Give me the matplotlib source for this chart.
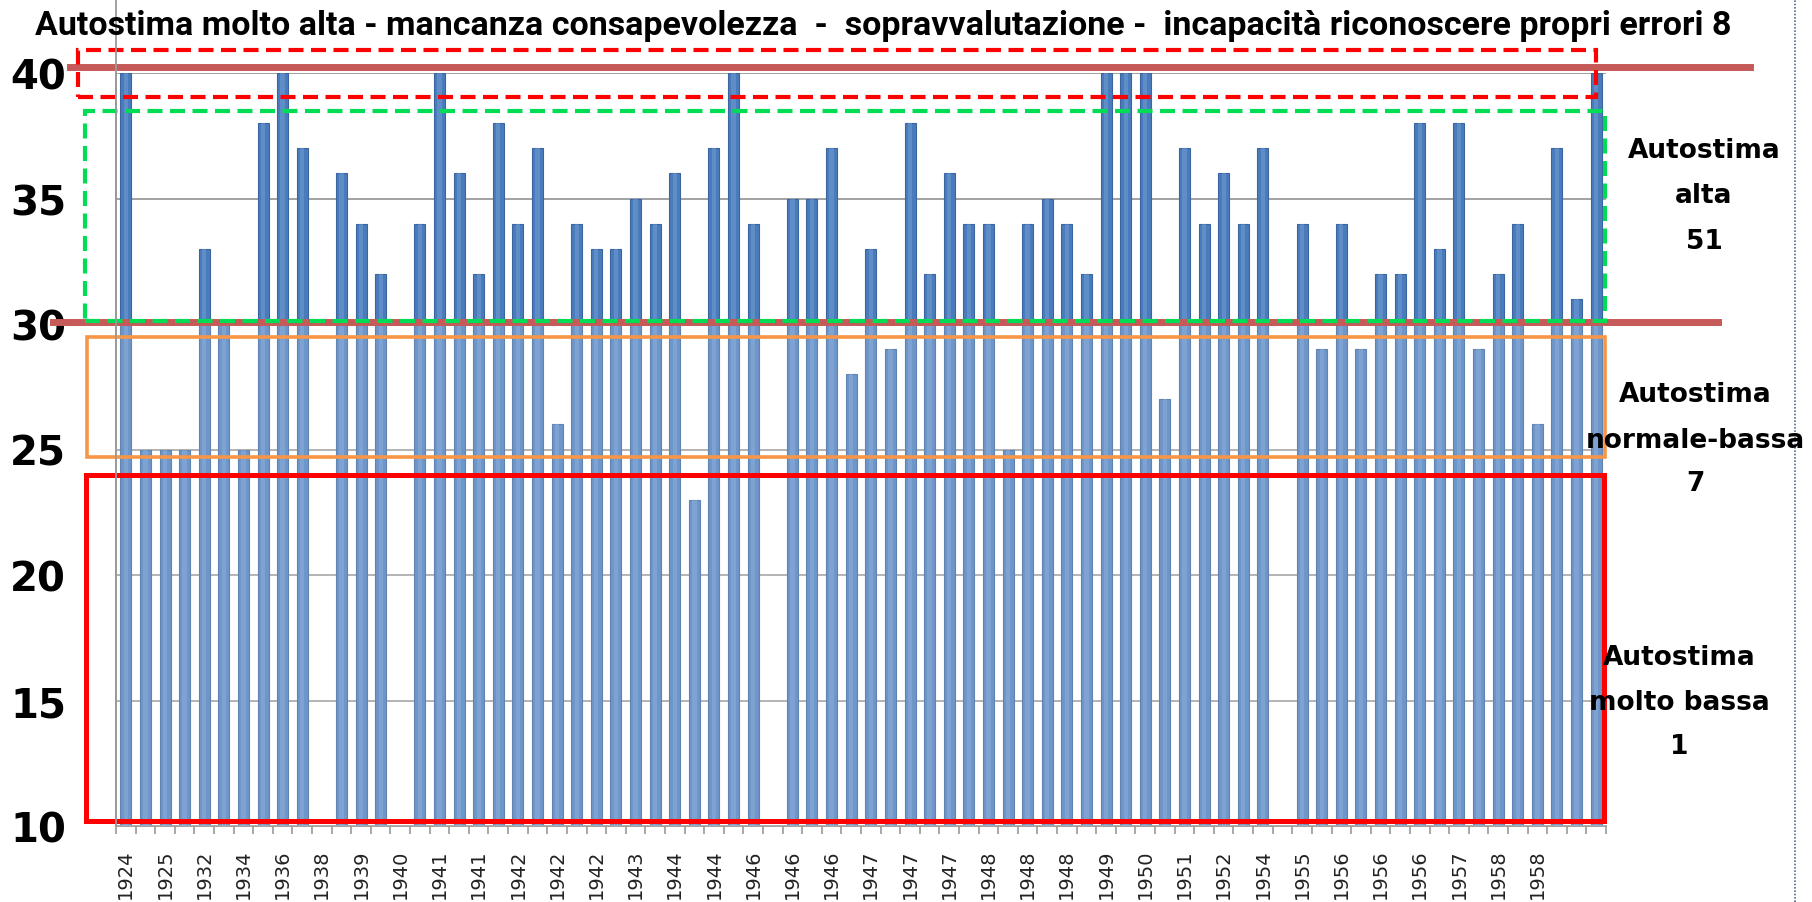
import numpy as np
import matplotlib
matplotlib.use('Agg')
import matplotlib.pyplot as plt
from matplotlib.transforms import blended_transform_factory
from matplotlib.patches import Rectangle
from matplotlib.lines import Line2D

# punteggi autostima, uno per persona
values = [40, 25, 25, 25, 33, 30, 25, 38, 40, 37,
          0, 36, 34, 32, 0, 34, 40, 36, 32, 38,
          34, 37, 26, 34, 33, 33, 35, 34, 36, 23,
          37, 40, 34, 0, 35, 35, 37, 28, 33, 29,
          38, 32, 36, 34, 34, 25, 34, 35, 34, 32,
          40, 40, 40, 27, 37, 34, 36, 34, 37, 0,
          34, 29, 34, 29, 32, 32, 38, 33, 38, 29,
          32, 34, 26, 37, 31, 40]
# anni di nascita (etichetta ogni due barre)
years = ['1924', '1925', '1932', '1934', '1936', '1938', '1939', '1940', '1941',
         '1941', '1942', '1942', '1942', '1943', '1944', '1944', '1946', '1946',
         '1946', '1947', '1947', '1947', '1948', '1948', '1948', '1949', '1950',
         '1951', '1952', '1954', '1955', '1956', '1956', '1956', '1957', '1958', '1958']
yticks = [10, 15, 20, 25, 30, 35, 40]

title = ('Autostima molto alta - mancanza consapevolezza  -  sopravvalutazione -  '
         'incapacità riconoscere propri errori 8')
blocks = [(['Autostima', 'alta', '51'], 1704, [151, 196, 242]),
          (['Autostima', 'normale-bassa', '7'], 1695, [395, 441, 484]),
          (['Autostima', 'molto bassa', '1'], 1679, [658, 703, 747])]

W, H = 1812, 903
fig = plt.figure(figsize=(W / 100, H / 100), dpi=100)
ax = fig.add_axes([116 / W, 1 - 827 / H, 1490 / W, 753 / H])

x = np.arange(len(values))
ax.bar(x, values, width=0.56, color='#4A7CBB', edgecolor='#3A65A0', linewidth=0.8, zorder=2)
ax.bar(x, values, width=0.22, color='#7AA3D8', alpha=0.45, linewidth=0, zorder=2)
ax.axhspan(10, 30, color='white', alpha=0.2, lw=0, zorder=3)

ax.set_xlim(-0.5, len(values) - 0.5)
ax.set_ylim(10, 40)
ax.set_yticks(yticks)
ax.yaxis.grid(True, color='#9A9A9A', lw=1.3, zorder=1)
ax.set_axisbelow(True)
ax.tick_params(axis='y', length=0, pad=36, labelsize=29)
for t in ax.get_yticklabels():
    t.set_fontweight('bold')
ax.set_xticks(x[::2][:len(years)])
ax.set_xticklabels(years, rotation=90, fontsize=14, color='#222222')
ax.set_xticks(np.arange(len(values) + 1) - 0.5, minor=True)
ax.tick_params(axis='x', which='major', length=0, pad=16)
ax.tick_params(axis='x', which='minor', length=6, color='#9A9A9A', width=1.2)
for s in ['top', 'right']:
    ax.spines[s].set_visible(False)
for s in ['left', 'bottom']:
    ax.spines[s].set_color('#9A9A9A')
    ax.spines[s].set_linewidth(1.3)
# l'asse verticale prosegue fino in cima
fig.add_artist(Line2D([116 / W, 116 / W], [1 - 827 / H, 1], color='#9A9A9A', lw=1.3))

# riquadri delle fasce
tr = blended_transform_factory(fig.transFigure, ax.transData)
def box(x0, x1, y0, y1, color, lw, ls='-'):
    ax.add_patch(Rectangle((x0 / W, y0), (x1 - x0) / W, y1 - y0, transform=tr,
                           fill=False, edgecolor=color, lw=lw, linestyle=ls,
                           clip_on=False, zorder=5))

box(86, 1604, 10.2, 24.0, '#FF0000', 3.6)
box(87, 1605, 24.7, 29.5, '#F79646', 2.6)
box(85, 1605, 30.1, 38.5, '#00DD55', 3, (0, (3.6, 1.8)))
box(78, 1596, 39.05, 40.92, '#FF0000', 3, (0, (3.6, 1.8)))

ax.add_line(Line2D([70 / W, 1750 / W], [40.24, 40.24], transform=tr, color='#C55A58',
                   lw=5, clip_on=False, zorder=4))
ax.add_line(Line2D([53 / W, 1718 / W], [30.08, 30.08], transform=tr, color='#C55A58',
                   lw=5, clip_on=False, zorder=4))

# bordo destro della diapositiva
fig.add_artist(Line2D([1795 / W, 1795 / W], [0, 1], color='#4F6C99', lw=1.2,
                      linestyle=(0, (1, 1))))

t = fig.text(35 / W, 1 - 35 / H, title, ha='left', va='baseline',
             fontsize=24, fontweight='bold', family=['Liberation Sans Narrow', 'Roboto'])
r = fig.canvas.get_renderer()
wpx = t.get_window_extent(r).width
t.set_fontsize(24 * 1696 / wpx)

for lines, cx, ys in blocks:
    for s, yy in zip(lines, ys):
        fig.text(cx / W, 1 - yy / H, s, ha='center', va='center', fontsize=19,
                 fontweight='bold', zorder=6)

fig.savefig('out.png', dpi=100)
